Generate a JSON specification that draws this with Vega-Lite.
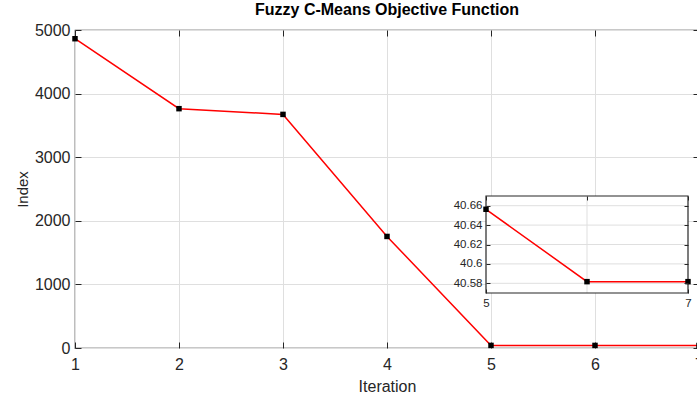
{
  "$schema": "https://vega.github.io/schema/vega-lite/v6.json",
  "width": 624,
  "height": 318,
  "autosize": "none",
  "padding": {"left": 75, "top": 30, "right": -2, "bottom": 46},
  "background": "white",
  "title": {
    "text": "Fuzzy C-Means Objective Function",
    "fontSize": 16,
    "fontWeight": "bold",
    "font": "Liberation Sans",
    "color": "#000000",
    "anchor": "middle",
    "offset": 4
  },
  "config": {
    "font": "Liberation Sans",
    "view": {"stroke": "#262626", "strokeWidth": 1.2},
    "axis": {
      "domain": false,
      "labelFlush": false,
      "labelOverlap": false,
      "labelColor": "#262626",
      "titleColor": "#262626",
      "tickColor": "#262626",
      "labelFont": "Liberation Sans",
      "titleFont": "Liberation Sans",
      "titleFontWeight": "normal",
      "gridColor": "#dfdfdf",
      "gridWidth": 1
    }
  },
  "datasets": {
    "objective": [
      {"iteration": 1, "value": 4863},
      {"iteration": 2, "value": 3763},
      {"iteration": 3, "value": 3673},
      {"iteration": 4, "value": 1754},
      {"iteration": 5, "value": 40.6563},
      {"iteration": 6, "value": 40.5817},
      {"iteration": 7, "value": 40.5817}
    ],
    "insetLevels": [
      {"level": 40.58},
      {"level": 40.6},
      {"level": 40.62},
      {"level": 40.64},
      {"level": 40.66}
    ]
  },
  "layer": [
    {
      "data": {"name": "objective"},
      "layer": [
        {
          "mark": {"type": "line", "color": "#ff0000", "strokeWidth": 1.5},
          "encoding": {
            "x": {
              "field": "iteration",
              "type": "quantitative",
              "scale": {"domain": [1, 7], "nice": false, "zero": false},
              "axis": {
                "orient": "bottom",
                "values": [1, 2, 3, 4, 5, 6, 7],
                "format": "d",
                "labelFontSize": 16,
                "tickSize": -6,
                "labelPadding": 14,
                "grid": true,
                "title": "Iteration",
                "titleFontSize": 16,
                "titlePadding": 6
              }
            },
            "y": {
              "field": "value",
              "type": "quantitative",
              "scale": {"domain": [0, 5000], "nice": false, "zero": true},
              "axis": {
                "orient": "left",
                "values": [0, 1000, 2000, 3000, 4000, 5000],
                "format": "d",
                "labelFontSize": 16,
                "tickSize": -6,
                "labelPadding": 11,
                "grid": true,
                "title": "Index",
                "titleFontSize": 15,
                "titlePadding": 4
              }
            }
          }
        },
        {
          "mark": {"type": "square", "color": "#000000", "size": 30, "opacity": 1},
          "encoding": {
            "x": {
              "field": "iteration",
              "type": "quantitative",
              "axis": {"orient": "top", "values": [1, 2, 3, 4, 5, 6, 7], "labels": false, "tickSize": -6, "grid": false, "title": null}
            },
            "y": {
              "field": "value",
              "type": "quantitative",
              "axis": {"orient": "right", "values": [0, 1000, 2000, 3000, 4000, 5000], "labels": false, "tickSize": -6, "grid": false, "title": null}
            }
          }
        }
      ],
      "resolve": {"axis": {"x": "independent", "y": "independent"}}
    },
    {
      "layer": [
        {
          "layer": [
            {
              "data": {"values": [{}]},
              "mark": {"type": "rect", "fill": "#ffffff", "strokeWidth": 0},
              "encoding": {
                "x": {
                  "datum": 5,
                  "type": "quantitative",
                  "scale": {"domain": [5, 7], "range": [411, 613], "nice": false, "zero": false},
                  "axis": {
                    "orient": "bottom",
                    "offset": -55,
                    "values": [5, 6, 7],
                    "format": "d",
                    "labelFontSize": 11.5,
                    "tickSize": -4,
                    "labelPadding": 8,
                    "grid": false,
                    "title": null,
                    "zindex": 1
                  }
                },
                "x2": {"datum": 7},
                "y": {
                  "datum": 40.57,
                  "type": "quantitative",
                  "scale": {"domain": [40.57, 40.67], "range": [263, 166], "nice": false, "zero": false},
                  "axis": {
                    "orient": "left",
                    "offset": -411,
                    "values": [40.58, 40.6, 40.62, 40.64, 40.66],
                    "format": ".2~f",
                    "labelFontSize": 11.5,
                    "tickSize": -4,
                    "labelPadding": 8,
                    "grid": false,
                    "title": null,
                    "zindex": 1
                  }
                },
                "y2": {"datum": 40.67}
              }
            },
            {
              "data": {"values": [{}]},
              "mark": {"type": "rule", "color": "#dfdfdf", "strokeWidth": 1},
              "encoding": {
                "x": {"datum": 6, "type": "quantitative"},
                "y": {"datum": 40.57, "type": "quantitative"},
                "y2": {"datum": 40.67}
              }
            },
            {
              "data": {"name": "insetLevels"},
              "mark": {"type": "rule", "color": "#dfdfdf", "strokeWidth": 1},
              "encoding": {
                "y": {"field": "level", "type": "quantitative"},
                "x": {"datum": 5, "type": "quantitative"},
                "x2": {"datum": 7}
              }
            },
            {
              "data": {"name": "objective"},
              "transform": [{"filter": "datum.iteration >= 5"}],
              "mark": {"type": "line", "color": "#ff0000", "strokeWidth": 1.5},
              "encoding": {
                "x": {"field": "iteration", "type": "quantitative"},
                "y": {"field": "value", "type": "quantitative"}
              }
            }
          ]
        },
        {
          "layer": [
            {
              "data": {"values": [{}]},
              "mark": {"type": "rect", "fillOpacity": 0, "stroke": "#262626", "strokeWidth": 1.2},
              "encoding": {
                "x": {
                  "datum": 5,
                  "type": "quantitative",
                  "axis": {"orient": "top", "offset": -166, "values": [5, 6, 7], "labels": false, "tickSize": -4, "grid": false, "title": null, "zindex": 1}
                },
                "x2": {"datum": 7},
                "y": {
                  "datum": 40.57,
                  "type": "quantitative",
                  "axis": {"orient": "right", "offset": -11, "values": [40.58, 40.6, 40.62, 40.64, 40.66], "labels": false, "tickSize": -4, "grid": false, "title": null, "zindex": 1}
                },
                "y2": {"datum": 40.67}
              }
            },
            {
              "data": {"name": "objective"},
              "transform": [{"filter": "datum.iteration >= 5"}],
              "mark": {"type": "square", "color": "#000000", "size": 30, "opacity": 1},
              "encoding": {
                "x": {"field": "iteration", "type": "quantitative"},
                "y": {"field": "value", "type": "quantitative"}
              }
            }
          ]
        }
      ],
      "resolve": {"axis": {"x": "independent", "y": "independent"}}
    }
  ],
  "resolve": {"scale": {"x": "independent", "y": "independent"}}
}
